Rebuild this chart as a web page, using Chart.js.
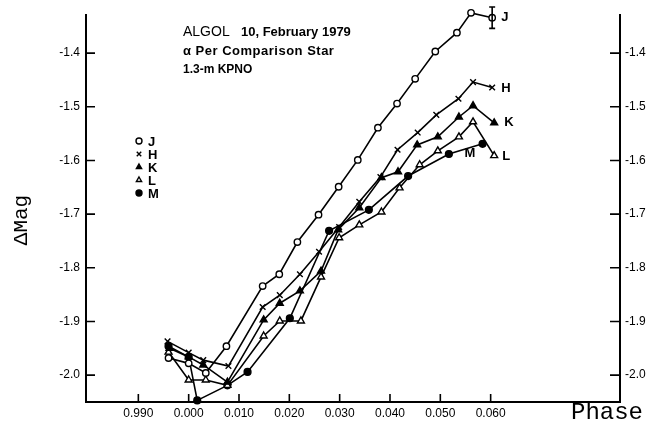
<!DOCTYPE html>
<html><head><meta charset="utf-8">
<script src="https://cdn.jsdelivr.net/npm/chart.js@4/dist/chart.umd.min.js"></script>
<style>html,body{margin:0;padding:0;background:#fff;}#wrap{width:653px;height:432px;}</style>
</head><body><div id="wrap"><canvas id="c" width="653" height="432"></canvas></div>
<script>
// ---- tick values / labels ----
const xTickValues = [-0.010, 0.000, 0.010, 0.020, 0.030, 0.040, 0.050, 0.060];
const xTickLabels = ["0.990", "0.000", "0.010", "0.020", "0.030", "0.040", "0.050", "0.060"];
const yTickValues = [-2.0, -1.9, -1.8, -1.7, -1.6, -1.5, -1.4];
const yTickLabels = ["-2.0", "-1.9", "-1.8", "-1.7", "-1.6", "-1.5", "-1.4"];

// ---- series (phase, delta mag) ----
const seriesNames = ["J", "H", "K", "L", "M"];
const phaseJ = [-0.0040, 0.0000, 0.0034, 0.0075, 0.0147, 0.0180, 0.0216, 0.0258, 0.0298, 0.0336, 0.0376, 0.0414, 0.0450, 0.0490, 0.0533, 0.0561, 0.0603];
const magJ   = [-1.968, -1.978, -1.996, -1.946, -1.834, -1.812, -1.752, -1.701, -1.649, -1.599, -1.539, -1.494, -1.448, -1.397, -1.362, -1.325, -1.334];
const phaseH = [-0.0042, 0.0000, 0.0029, 0.0079, 0.0147, 0.0181, 0.0221, 0.0259, 0.0299, 0.0339, 0.0381, 0.0415, 0.0455, 0.0492, 0.0536, 0.0565, 0.0603];
const magH   = [-1.937, -1.958, -1.972, -1.983, -1.873, -1.851, -1.812, -1.770, -1.724, -1.677, -1.631, -1.580, -1.548, -1.515, -1.485, -1.454, -1.464];
const phaseK = [-0.0038, 0.0000, 0.0029, 0.0077, 0.0149, 0.0181, 0.0221, 0.0263, 0.0297, 0.0339, 0.0383, 0.0416, 0.0454, 0.0495, 0.0537, 0.0565, 0.0607];
const magK   = [-1.950, -1.966, -1.981, -2.013, -1.897, -1.866, -1.843, -1.806, -1.729, -1.688, -1.632, -1.621, -1.571, -1.556, -1.519, -1.498, -1.530];
const phaseL = [-0.0040, 0.0000, 0.0034, 0.0077, 0.0149, 0.0181, 0.0223, 0.0263, 0.0299, 0.0339, 0.0383, 0.0419, 0.0459, 0.0495, 0.0537, 0.0565, 0.0607];
const magL   = [-1.957, -2.009, -2.009, -2.019, -1.927, -1.899, -1.899, -1.817, -1.744, -1.720, -1.696, -1.651, -1.608, -1.582, -1.556, -1.528, -1.591];
const phaseM = [-0.0040, 0.0000, 0.0017, 0.0077, 0.0117, 0.0201, 0.0279, 0.0358, 0.0436, 0.0517, 0.0584];
const magM   = [-1.946, -1.966, -2.047, -2.019, -1.994, -1.894, -1.731, -1.692, -1.629, -1.588, -1.569];
const errorJ = 0.02; // error bar half-length on last J point

// ---- text ----
const titleLines = [["ALGOL", "10, February 1979"], ["α Per Comparison Star"], ["1.3-m KPNO"]];
const yAxisTitle = "ΔMag";
const xAxisTitle = "Phase";

const pts = (xs, ys) => xs.map((x, i) => ({x: x, y: ys[i]}));
const styles = {
  J: {pointStyle: 'circle', pointRadius: 3.2, pointBackgroundColor: '#fff'},
  H: {pointStyle: 'crossRot', pointRadius: 4, pointBackgroundColor: '#000'},
  K: {pointStyle: 'triangle', pointRadius: 4, pointBackgroundColor: '#000'},
  L: {pointStyle: 'triangle', pointRadius: 4, pointBackgroundColor: '#fff'},
  M: {pointStyle: 'circle', pointRadius: 3.4, pointBackgroundColor: '#000'}
};
const seriesData = {J: pts(phaseJ, magJ), H: pts(phaseH, magH), K: pts(phaseK, magK), L: pts(phaseL, magL), M: pts(phaseM, magM)};

const datasets = seriesNames.map(n => Object.assign({
  label: n, data: seriesData[n], borderColor: '#000', borderWidth: 1.6,
  pointBorderColor: '#000', pointBorderWidth: 1.4, tension: 0, fill: false, clip: false, yAxisID: 'y'
}, styles[n]));

const FONT = "'Liberation Sans', Arial, sans-serif";

function marker(ctx, style, r, bg, x, y) {
  ctx.save();
  ctx.lineWidth = 1.4; ctx.strokeStyle = '#000'; ctx.fillStyle = bg;
  ctx.beginPath();
  if (style === 'circle') { ctx.arc(x, y, r, 0, Math.PI * 2); ctx.fill(); ctx.stroke(); }
  else if (style === 'triangle') {
    ctx.moveTo(x, y - r); ctx.lineTo(x + r * 0.87, y + r * 0.5); ctx.lineTo(x - r * 0.87, y + r * 0.5); ctx.closePath(); ctx.fill(); ctx.stroke();
  } else if (style === 'crossRot') {
    const d = r * 0.7; ctx.moveTo(x - d, y - d); ctx.lineTo(x + d, y + d); ctx.moveTo(x + d, y - d); ctx.lineTo(x - d, y + d); ctx.stroke();
  }
  ctx.restore();
}

const decor = {
  id: 'decor',
  afterDraw(chart) {
    const ctx = chart.ctx, xs = chart.scales.x, ys = chart.scales.y, ca = chart.chartArea;
    ctx.save();
    ctx.strokeStyle = '#000'; ctx.lineWidth = 1.6;
    // inward ticks
    ctx.beginPath();
    yTickValues.forEach(v => { const p = ys.getPixelForValue(v); ctx.moveTo(ca.left, p); ctx.lineTo(ca.left + 9, p); ctx.moveTo(ca.right, p); ctx.lineTo(ca.right - 10, p); });
    xTickValues.forEach(v => { const p = xs.getPixelForValue(v); ctx.moveTo(p, ca.bottom); ctx.lineTo(p, ca.bottom - 8); });
    ctx.stroke();
    // error bar on last J point
    const lj = phaseJ.length - 1;
    const ex = xs.getPixelForValue(phaseJ[lj]);
    const e1 = ys.getPixelForValue(magJ[lj] - errorJ), e2 = ys.getPixelForValue(magJ[lj] + errorJ);
    ctx.beginPath(); ctx.moveTo(ex, e1); ctx.lineTo(ex, e2);
    ctx.moveTo(ex - 3, e1); ctx.lineTo(ex + 3, e1); ctx.moveTo(ex - 3, e2); ctx.lineTo(ex + 3, e2); ctx.stroke();
    // title block
    ctx.fillStyle = '#000'; ctx.textBaseline = 'middle'; ctx.textAlign = 'left';
    ctx.font = "14px " + FONT; ctx.fillText(titleLines[0][0], 183, 32);
    ctx.font = "bold 13px " + FONT; ctx.fillText(titleLines[0][1], 241, 32);
    ctx.save();
    ctx.font = "bold 13px " + FONT;
    try { ctx.letterSpacing = "0.5px"; } catch (e) {}
    ctx.fillText(titleLines[1][0], 183, 51);
    ctx.restore();
    ctx.font = "bold 12px " + FONT;
    ctx.fillText(titleLines[2][0], 183, 70);
    // end labels
    ctx.font = "bold 13px " + FONT;
    const endOff = {J: [9, 0], H: [9, 1], K: [10, 0], L: [8, 1], M: [-18, 10]};
    seriesNames.forEach(n => {
      const d = seriesData[n], last = d[d.length - 1];
      const px = xs.getPixelForValue(last.x), py = ys.getPixelForValue(last.y);
      ctx.fillText(n, px + endOff[n][0], py + endOff[n][1]);
    });
    // legend
    seriesNames.forEach((n, i) => {
      const y = 141 + i * 13;
      marker(ctx, styles[n].pointStyle, n === 'H' ? 3.2 : 3, styles[n].pointBackgroundColor, 139, y);
      ctx.fillStyle = '#000'; ctx.font = "bold 13px " + FONT; ctx.fillText(n, 148, y + 1);
    });
    // axis titles
    ctx.font = "24px 'Liberation Mono', 'DejaVu Sans Mono', monospace";
    ctx.textAlign = 'left'; ctx.textBaseline = 'middle';
    ctx.fillText(xAxisTitle, 571, 413);
    ctx.font = "21px 'Liberation Mono', 'DejaVu Sans Mono', monospace";
    ctx.save(); ctx.translate(21, 220); ctx.rotate(-Math.PI / 2); ctx.textAlign = 'center';
    ctx.fillText(yAxisTitle, 0, 0); ctx.restore();
    ctx.restore();
  }
};

const tickFont = {family: FONT, size: 12};
new Chart(document.getElementById('c'), {
  type: 'line',
  data: {datasets: datasets},
  options: {
    responsive: false, animation: false, devicePixelRatio: 1,
    layout: {padding: {top: 15, left: 0, right: 0, bottom: 0}},
    plugins: {legend: {display: false}, tooltip: {enabled: false}},
    scales: {
      x: {
        type: 'linear', position: 'bottom', min: -0.0204, max: 0.0857,
        afterBuildTicks: s => { s.ticks = xTickValues.map(v => ({value: v})); },
        afterFit: s => { s.height = 30; },
        ticks: {callback: (v) => { const i = xTickValues.findIndex(t => Math.abs(t - v) < 1e-9); return i >= 0 ? xTickLabels[i] : ''; },
                autoSkip: false, maxRotation: 0, color: '#000', font: tickFont, padding: 4},
        grid: {display: false, drawTicks: false},
        border: {display: true, color: '#000', width: 2}
      },
      y: {
        type: 'linear', position: 'left', min: -2.05, max: -1.329,
        afterBuildTicks: s => { s.ticks = yTickValues.map(v => ({value: v})); },
        afterFit: s => { s.width = 86; },
        ticks: {callback: (v) => { const i = yTickValues.findIndex(t => Math.abs(t - v) < 1e-9); return i >= 0 ? yTickLabels[i] : ''; },
                color: '#000', font: tickFont, padding: 6},
        grid: {display: false, drawTicks: false},
        border: {display: true, color: '#000', width: 2}
      },
      y2: {
        type: 'linear', position: 'right', min: -2.05, max: -1.329,
        afterBuildTicks: s => { s.ticks = yTickValues.map(v => ({value: v})); },
        afterFit: s => { s.width = 33; },
        ticks: {callback: (v) => { const i = yTickValues.findIndex(t => Math.abs(t - v) < 1e-9); return i >= 0 ? yTickLabels[i] : ''; },
                color: '#000', font: tickFont, padding: 5},
        grid: {display: false, drawTicks: false},
        border: {display: true, color: '#000', width: 2}
      }
    }
  },
  plugins: [decor]
});
</script>
</body></html>
